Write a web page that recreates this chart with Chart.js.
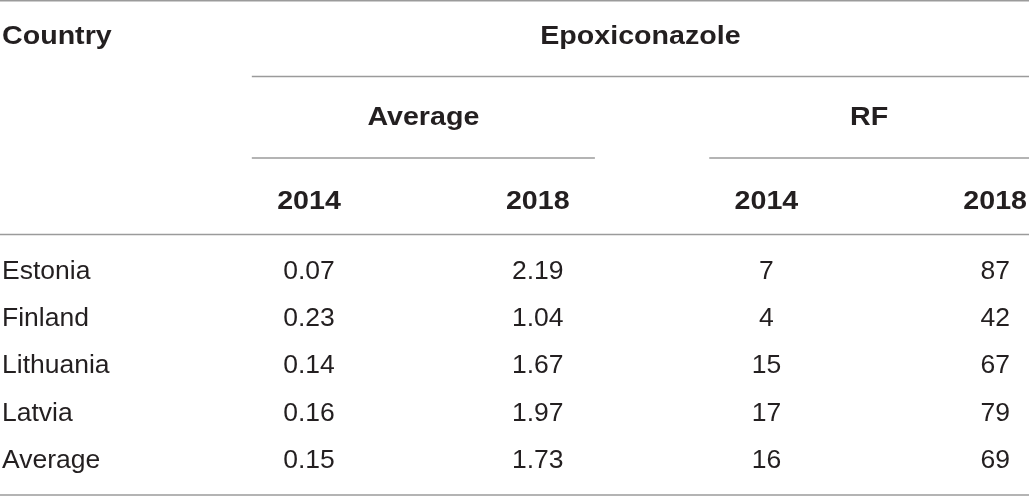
<!DOCTYPE html>
<html>
<head>
<meta charset="utf-8">
<script src="https://cdn.jsdelivr.net/npm/chart.js@4.4.1/dist/chart.umd.min.js"></script>
<style>
  html, body { margin: 0; padding: 0; background: #fff; }
  #wrap { width: 1029px; height: 496px; }
</style>
</head>
<body>
<div id="wrap"><canvas id="residueTable"></canvas></div>
<script>
// table content
const countries = ['Estonia', 'Finland', 'Lithuania', 'Latvia', 'Average'];
const average2014 = [0.07, 0.23, 0.14, 0.16, 0.15];
const average2018 = [2.19, 1.04, 1.67, 1.97, 1.73];
const rf2014 = [7, 4, 15, 17, 16];
const rf2018 = [87, 42, 67, 79, 69];
const yearLabels = ['2014', '2018', '2014', '2018'];
const groupLabels = ['Average', 'RF'];
const compoundLabel = 'Epoxiconazole';
const firstColumnLabel = 'Country';

// each numeric column with how its numbers are printed
const columns = [
  { values: average2014, digits: 2 },
  { values: average2018, digits: 2 },
  { values: rf2014, digits: 0 },
  { values: rf2018, digits: 0 },
];

// layout in scale units: columns sit at x = 1..4, data rows at y = 0..4
const X_MIN = -0.351, X_MAX = 4.148;
const Y_MIN = -5.911, Y_MAX = 4.597;
const titleRow = -4.979, groupRow = -3.263, yearRow = -1.483;
const groupSpans = [[0.75, 2.25], [2.75, null]];   // null = to the right edge
const TEXT = '#231f20';
const RULE = '#9b9b9b';
const FONT = '"Liberation Sans", Arial, sans-serif';

function drawText(ctx, text, x, y, align, bold) {
  ctx.save();
  ctx.translate(x, y);
  ctx.scale(bold ? 1.08 : 1.0, 1);
  ctx.font = (bold ? 'bold ' : '') + '26.5px ' + FONT;
  ctx.fillStyle = TEXT;
  ctx.textAlign = align;
  ctx.textBaseline = 'alphabetic';
  ctx.fillText(text, 0, 0);
  ctx.restore();
}

const tablePlugin = {
  id: 'tablePlugin',
  afterDatasetsDraw(chart) {
    const ctx = chart.ctx;
    const xs = chart.scales.x;
    const ys = chart.scales.y;
    const left = xs.left, right = xs.right;

    // horizontal rules
    function rule(yVal, from, to) {
      const y = ys.getPixelForValue(yVal);
      const x0 = from === null ? left : xs.getPixelForValue(from);
      const x1 = to === null ? right : xs.getPixelForValue(to);
      ctx.save();
      ctx.strokeStyle = RULE;
      ctx.lineWidth = 1.5;
      ctx.beginPath();
      ctx.moveTo(x0, y);
      ctx.lineTo(x1, y);
      ctx.stroke();
      ctx.restore();
    }
    rule(-5.895, null, null);
    rule(-4.290, groupSpans[0][0], null);
    groupSpans.forEach(s => rule(-2.564, s[0], s[1]));
    rule(-0.943, null, null);
    rule(4.576, null, null);

    // header texts
    drawText(ctx, firstColumnLabel, left + 2, ys.getPixelForValue(titleRow), 'left', true);
    const spanStart = xs.getPixelForValue(groupSpans[0][0]);
    drawText(ctx, compoundLabel, (spanStart + right) / 2, ys.getPixelForValue(titleRow), 'center', true);
    groupSpans.forEach((s, i) => {
      const a = xs.getPixelForValue(s[0]);
      const b = s[1] === null ? right : xs.getPixelForValue(s[1]);
      drawText(ctx, groupLabels[i], (a + b) / 2, ys.getPixelForValue(groupRow), 'center', true);
    });
    yearLabels.forEach((lab, i) => {
      drawText(ctx, lab, xs.getPixelForValue(i + 1), ys.getPixelForValue(yearRow), 'center', true);
    });

    // country names
    countries.forEach((c, r) => {
      drawText(ctx, c, left + 2, ys.getPixelForValue(r), 'left', false);
    });

    // cell values, placed on the dataset points
    chart.data.datasets.forEach((ds, i) => {
      const meta = chart.getDatasetMeta(i);
      meta.data.forEach((pt, r) => {
        const v = columns[i].values[r];
        drawText(ctx, v.toFixed(columns[i].digits), pt.x, pt.y, 'center', false);
      });
    });
  }
};

const datasets = columns.map((col, i) => ({
  label: 'col' + i,
  data: col.values.map((v, r) => ({ x: i + 1, y: r })),
  pointRadius: 0,
  pointHoverRadius: 0,
  showLine: false,
}));

new Chart(document.getElementById('residueTable'), {
  type: 'scatter',
  data: { datasets: datasets },
  options: {
    responsive: true,
    maintainAspectRatio: false,
    animation: false,
    layout: { padding: 0 },
    events: [],
    scales: {
      x: { type: 'linear', min: X_MIN, max: X_MAX, display: false },
      y: { type: 'linear', min: Y_MIN, max: Y_MAX, reverse: true, display: false },
    },
    plugins: {
      legend: { display: false },
      tooltip: { enabled: false },
    },
  },
  plugins: [tablePlugin],
});
</script>
</body>
</html>
